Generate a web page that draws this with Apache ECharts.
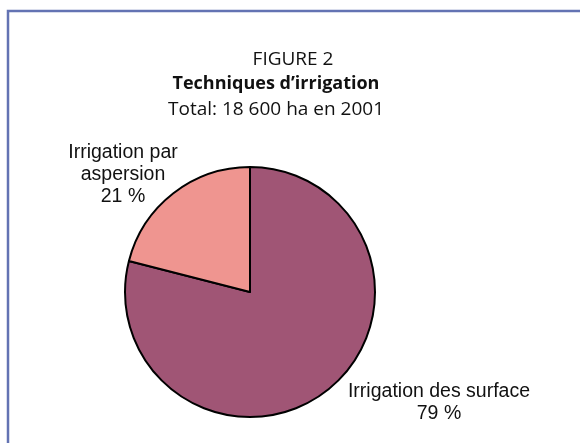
<!DOCTYPE html>
<html>
<head>
<meta charset="utf-8">
<script src="https://cdn.jsdelivr.net/npm/echarts@6/dist/echarts.min.js"></script>
<style>html,body{margin:0;padding:0;background:#fff;}#c{width:580px;height:443px;}</style>
</head>
<body>
<div id="c"></div>
<script>
const categories = ["Irrigation des surface", "Irrigation par\naspersion"];
const values = [79, 21];
const colors = ["#a05575", "#ef9590"];
const titleLines = ["FIGURE 2", "Techniques d\u2019irrigation", "Total: 18 600 ha en 2001"];

const labelPos = [{x: 439, y: 403}, {x: 123, y: 175}];

const chart = echarts.init(document.getElementById('c'), null, {renderer: 'canvas'});
chart.setOption({
  animation: false,
  backgroundColor: '#fff',
  title: [
    {text: titleLines[0], left: 288, top: 45, textAlign: 'center',
     textStyle: {fontFamily: 'Open Sans', fontSize: 19, fontWeight: 'normal', color: '#111'}},
    {text: titleLines[1], left: 271, top: 70, textAlign: 'center',
     textStyle: {fontFamily: 'Open Sans', fontSize: 18, fontWeight: 'bold', color: '#111'}},
    {text: titleLines[2], left: 271, top: 95, textAlign: 'center',
     textStyle: {fontFamily: 'Open Sans', fontSize: 19, fontWeight: 'normal', color: '#111'}}
  ],
  graphic: [{
    type: 'rect', shape: {x: 8, y: 11, width: 620, height: 500},
    style: {fill: 'none', stroke: '#6373b3', lineWidth: 2.5}, silent: true
  }],
  series: [{
    type: 'pie',
    center: [250, 292],
    radius: 125,
    startAngle: 90,
    clockwise: true,
    data: categories.map((c, i) => ({name: c, value: values[i], itemStyle: {color: colors[i]}})),
    itemStyle: {borderColor: '#000', borderWidth: 2},
    label: {
      show: true, position: 'outside',
      formatter: p => p.name + '\n' + p.value + ' %',
      fontFamily: 'Liberation Sans', fontSize: 19.5, lineHeight: 22, color: '#111', align: 'center'
    },
    labelLine: {show: false},
    labelLayout: p => ({x: labelPos[p.dataIndex].x, y: labelPos[p.dataIndex].y, align: 'center', verticalAlign: 'middle'}),
    emphasis: {disabled: true}
  }]
});
</script>
</body>
</html>
